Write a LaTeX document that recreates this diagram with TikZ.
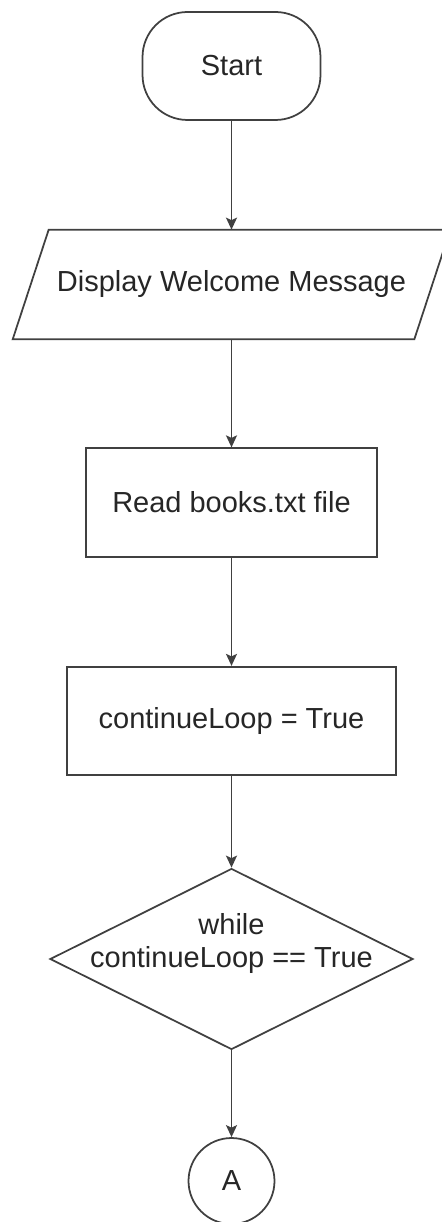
\documentclass[tikz,border=0pt]{standalone}
\usepackage{fontspec}
\setmainfont{Liberation Sans}
\usetikzlibrary{shapes.geometric,arrows.meta,calc}

\begin{document}
\begin{tikzpicture}[x=0.02cm, y=-0.02cm, >={Stealth[length=2.4mm,width=2.2mm,inset=0.5mm]},
		every node/.style={font=\fontsize{16.5}{18.7}\selectfont, text=black!85},
		line/.style={draw=black!75, line width=1pt},
		terminal/.style={line, rounded corners=0.9cm, minimum width=3.56cm, minimum height=2.16cm},
		procbox/.style={line, minimum height=2.17cm},
		decision/.style={line, diamond, minimum width=7.26cm, minimum height=3.62cm, inner sep=0pt},
		connector/.style={line, circle, minimum size=1.72cm, inner sep=0pt}]
		\useasboundingbox (0,0) rectangle (441,1222);
		\node[terminal] (start) at (231.5,66) {Start};
		\node[minimum width=8.02cm, minimum height=2.18cm] (display) at (231.5,284.5) {Display Welcome Message};
		\draw[line] ($(display.north west)+(18,0)$) -- ($(display.north east)+(18,0)$) -- ($(display.south east)+(-18,0)$) -- ($(display.south west)+(-18,0)$) -- cycle;
		\node[procbox, minimum width=5.82cm] (readfile) at (231.5,502.5) {Read books.txt file};
		\node[procbox, minimum width=6.58cm] (setloop) at (231.5,721) {continueLoop = True};
		\node[decision, label={[yshift=0.31cm, align=center]center:while\\continueLoop == True}] (whileloop) at (231.5,959) {};
		\node[connector] (conA) at (231.5,1181) {A};
		\draw[line,->] (start) -- (display);
		\draw[line,->] (display) -- (readfile);
		\draw[line,->] (readfile) -- (setloop);
		\draw[line,->] (setloop) -- (whileloop);
		\draw[line,->] (whileloop) -- (conA);
		\end{tikzpicture}
\end{document}
